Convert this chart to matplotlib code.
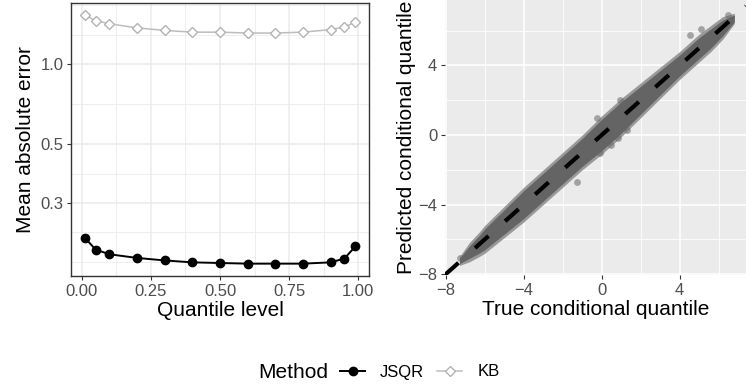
import matplotlib
matplotlib.use("Agg")
import matplotlib.pyplot as plt
from matplotlib.lines import Line2D

plt.rcParams['font.family'] = ['Liberation Sans', 'DejaVu Sans']
plt.rcParams['lines.scale_dashes'] = False

# ---- left panel data: mean absolute error by quantile level ----
levels = [0.01, 0.05, 0.10, 0.20, 0.30, 0.40, 0.50, 0.60, 0.70, 0.80, 0.90, 0.95, 0.99]
mae_jsqr = [0.222, 0.200, 0.192, 0.186, 0.182, 0.179, 0.178, 0.177, 0.177, 0.177, 0.179, 0.185, 0.206]
mae_kb = [1.53, 1.46, 1.42, 1.37, 1.34, 1.32, 1.32, 1.31, 1.31, 1.32, 1.35, 1.38, 1.44]

x_ticks = [0.0, 0.25, 0.5, 0.75, 1.0]
x_labels = ["0.00", "0.25", "0.50", "0.75", "1.00"]
y_ticks = [0.3, 0.5, 1.0]
y_labels = ["0.3", "0.5", "1.0"]

true_q = [-7.3, -6.8, -6.3, -6.0, -5.0, -4.0, -3.0, -2.0, -1.0, 0.0, 1.0, 2.0, 3.0, 4.0, 5.0, 5.6, 6.2, 6.8]
pred_lo = [-7.4, -7.1, -6.8, -6.6, -5.7, -4.8, -3.8, -2.8, -1.8, -0.9, 0.1, 1.2, 2.3, 3.4, 4.4, 5.0, 5.7, 6.5]
pred_hi = [-7.1, -6.4, -5.8, -5.4, -4.3, -3.2, -2.2, -1.2, -0.2, 0.9, 1.9, 2.8, 3.7, 4.6, 5.6, 6.1, 6.6, 6.9]
edge_lo = [-7.5, -7.3, -7.0, -6.8, -5.9, -5.0, -4.0, -3.0, -2.0, -1.1, -0.1, 1.0, 2.1, 3.2, 4.2, 4.8, 5.5, 6.4]
edge_hi = [-7.0, -6.2, -5.6, -5.2, -4.1, -3.0, -2.0, -1.0, 0.0, 1.1, 2.1, 3.0, 3.9, 4.8, 5.8, 6.3, 6.8, 7.0]
out_x = [-7.25, -1.28, -0.09, 0.5, 0.85, 1.28, 0.94, -0.26, 4.53, 5.1, 6.5]
out_y = [-7.05, -2.68, -1.05, -0.57, -0.19, 0.29, 2.01, 0.96, 5.75, 6.1, 6.9]

r_ticks = [-8, -4, 0, 4]
r_minor = [-6, -2, 2, 6]

fig = plt.figure(figsize=(7.46, 3.87), dpi=100)

tick_col = '#4d4d4d'
tick_fs = 12
title_fs = 15

# ---------------- left panel ----------------
ax1 = fig.add_axes([0.0952, 0.2868, 0.3995, 0.7054])
ax1.set_yscale('log')
ax1.plot(levels, mae_kb, color='#bdbdbd', lw=1.1, marker='D', ms=4.8,
         mfc='white', mec='#b3b3b3', mew=1.0, zorder=3)
ax1.plot(levels, mae_jsqr, color='black', lw=1.4, marker='o', ms=6.0,
         mfc='black', mec='black', zorder=4)
ax1.set_xlim(-0.039, 1.039)
ax1.set_ylim(0.159, 1.70)
ax1.set_xticks(x_ticks)
ax1.set_xticklabels(x_labels)
ax1.set_yticks(y_ticks)
ax1.set_yticklabels(y_labels)
ax1.set_xticks([0.125, 0.375, 0.625, 0.875], minor=True)
ax1.set_yticks([0.18, 0.2324, 0.387, 0.707, 1.291, 1.667], minor=True)
ax1.yaxis.set_minor_formatter(matplotlib.ticker.NullFormatter())
ax1.grid(which='major', color='#ebebeb', lw=1.1)
ax1.grid(which='minor', color='#ebebeb', lw=0.6)
ax1.set_axisbelow(True)
ax1.tick_params(which='minor', length=0)
ax1.tick_params(which='major', length=3, width=0.8, color='#333333',
                labelsize=tick_fs, labelcolor=tick_col, pad=2.5)
for s in ax1.spines.values():
    s.set_color('#333333')
    s.set_linewidth(1.0)
ax1.set_xlabel("Quantile level", fontsize=title_fs, labelpad=2)
ax1.set_ylabel("Mean absolute error", fontsize=title_fs, labelpad=4)

# ---------------- right panel ----------------
ax2 = fig.add_axes([0.5965, 0.2894, 0.4035, 0.7106])
ax2.set_facecolor('#ebebeb')
ax2.fill_between(true_q, edge_lo, edge_hi, color='#999999', lw=0, zorder=2)
ax2.fill_between(true_q, pred_lo, pred_hi, color='#646464', lw=0, zorder=3)
ax2.scatter(out_x, out_y, s=24, color='#666666', alpha=0.55, lw=0, zorder=3)
ax2.axline((0, 0), slope=1, color='black', lw=3.0, dashes=(13, 16),
           dash_capstyle='butt', zorder=5)
ax2.set_xlim(-8.04, 7.4)
ax2.set_ylim(-8.05, 7.76)
ax2.set_xticks(r_ticks)
ax2.set_yticks(r_ticks)
ax2.set_xticklabels(["\u22128", "\u22124", "0", "4"])
ax2.set_yticklabels(["\u22128", "\u22124", "0", "4"])
ax2.set_xticks(r_minor, minor=True)
ax2.set_yticks(r_minor, minor=True)
ax2.grid(which='major', color='white', lw=1.1)
ax2.grid(which='minor', color='white', lw=0.6)
ax2.set_axisbelow(True)
ax2.tick_params(which='minor', length=0)
ax2.tick_params(which='major', length=3, width=0.8, color='#333333',
                labelsize=tick_fs, labelcolor=tick_col, pad=2.5)
for s in ax2.spines.values():
    s.set_visible(False)
ax2.set_xlabel("True conditional quantile", fontsize=title_fs, labelpad=2)
ax2.set_ylabel("Predicted conditional quantile", fontsize=title_fs, labelpad=2)

# ---------------- legend ----------------
fig.text(258 / 746, 1 - 372 / 387, "Method", fontsize=title_fs, ha='left', va='center')
handles = [
    Line2D([], [], color='black', lw=1.4, marker='o', ms=6.0, mfc='black', mec='black'),
    Line2D([], [], color='#bdbdbd', lw=1.1, marker='D', ms=4.8, mfc='white', mec='#b3b3b3'),
]
fig.legend(handles, ["JSQR", "KB"], loc='center left',
           bbox_to_anchor=(340 / 746, 1 - 372 / 387), ncol=2, frameon=False,
           fontsize=12, handlelength=1.5, handletextpad=0.9, columnspacing=0.8,
           borderpad=0, borderaxespad=0)

fig.savefig("out.png", dpi=100)
